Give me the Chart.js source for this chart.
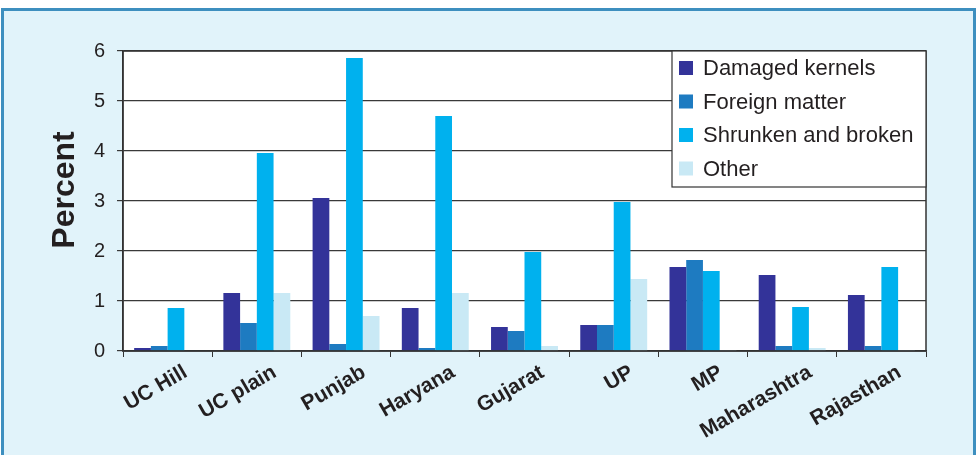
<!DOCTYPE html>
<html>
<head>
<meta charset="utf-8">
<script src="https://cdn.jsdelivr.net/npm/chart.js@4"></script>
<style>
  html, body { margin: 0; padding: 0; background: #ffffff; }
  #wrap { position: relative; width: 976px; height: 455px; overflow: hidden; }
  #frame { position: absolute; left: 1px; top: 8px; width: 969px; height: 470px;
           border: 3px solid #3d8fbf; background: #e1f3fa; }
  #c { position: absolute; left: 0; top: 0; }
</style>
</head>
<body>
<div id="wrap">
  <div id="frame"></div>
  <canvas id="c" width="976" height="455" style="width:976px;height:455px"></canvas>
</div>
<script>
const categories = ["UC Hill", "UC plain", "Punjab", "Haryana", "Gujarat", "UP", "MP", "Maharashtra", "Rajasthan"];
const damagedKernels = [0.06, 1.16, 3.06, 0.86, 0.48, 0.52, 1.68, 1.52, 1.12];
const foreignMatter = [0.10, 0.56, 0.14, 0.06, 0.40, 0.52, 1.82, 0.10, 0.10];
const shrunkenBroken = [0.86, 3.96, 5.86, 4.70, 1.98, 2.98, 1.60, 0.88, 1.68];
const other = [0.00, 1.16, 0.70, 1.16, 0.10, 1.44, 0.02, 0.06, 0.02];
const seriesNames = ["Damaged kernels", "Foreign matter", "Shrunken and broken", "Other"];
const yTicks = [0, 1, 2, 3, 4, 5, 6];
const yTitle = "Percent";

const FONT = "'Liberation Sans', Arial, sans-serif";

const plotFrame = {
  id: 'plotFrame',
  beforeDraw(chart) {
    const a = chart.chartArea, ctx = chart.ctx;
    ctx.save();
    ctx.fillStyle = '#ffffff';
    ctx.fillRect(a.left, a.top, a.right - a.left, a.bottom - a.top);
    ctx.restore();
  },
  afterDraw(chart) {
    const a = chart.chartArea, ctx = chart.ctx;
    ctx.save();
    ctx.strokeStyle = '#333333';
    ctx.lineWidth = 1.5;
    ctx.strokeRect(a.left, a.top, a.right - a.left, a.bottom - a.top);
    // y axis title
    ctx.save();
    ctx.translate(65, 190);
    ctx.rotate(-Math.PI / 2);
    ctx.font = 'bold 32px ' + FONT;
    ctx.fillStyle = '#231f20';
    ctx.textAlign = 'center';
    ctx.textBaseline = 'middle';
    ctx.fillText(yTitle, 0, 0);
    ctx.restore();
    // legend box
    const lx = 672, ly = a.top, lw = a.right - 672, lh = 136;
    ctx.fillStyle = '#ffffff';
    ctx.fillRect(lx, ly, lw, lh);
    ctx.strokeStyle = '#333333';
    ctx.lineWidth = 1.2;
    ctx.strokeRect(lx, ly, lw, lh);
    ctx.font = '22px ' + FONT;
    ctx.textBaseline = 'middle';
    ctx.textAlign = 'left';
    chart.data.datasets.forEach((ds, i) => {
      const cy = ly + 17 + i * 33.5;
      ctx.fillStyle = ds.backgroundColor;
      ctx.fillRect(lx + 7, cy - 7, 14, 14);
      ctx.fillStyle = '#231f20';
      ctx.fillText(ds.label, lx + 31, cy + 1);
    });
    ctx.restore();
  }
};

new Chart(document.getElementById('c'), {
  type: 'bar',
  data: {
    labels: categories,
    datasets: [
      { label: seriesNames[0], data: damagedKernels, backgroundColor: '#333399' },
      { label: seriesNames[1], data: foreignMatter, backgroundColor: '#1e7bc1' },
      { label: seriesNames[2], data: shrunkenBroken, backgroundColor: '#00b1ee' },
      { label: seriesNames[3], data: other, backgroundColor: '#c9e9f5' }
    ]
  },
  options: {
    responsive: false,
    animation: false,
    devicePixelRatio: 1,
    layout: { padding: { left: 0, right: 50, top: 51, bottom: 0 } },
    datasets: { bar: { categoryPercentage: 0.75, barPercentage: 1.0, borderWidth: 0 } },
    plugins: { legend: { display: false }, tooltip: { enabled: false } },
    scales: {
      x: {
        offset: true,
        grid: { display: true, drawOnChartArea: false, drawTicks: true, tickLength: 6, color: '#333333', offset: true },
        border: { display: true, color: '#333333', width: 1.5 },
        ticks: {
          color: '#231f20', font: { family: FONT, size: 21, weight: 'bold' },
          minRotation: 30, maxRotation: 30, autoSkip: false, labelOffset: 18, padding: 3
        },
        afterFit(scale) { scale.height = 104; }
      },
      y: {
        min: 0, max: 6,
        afterBuildTicks(scale) { scale.ticks = yTicks.map(v => ({ value: v })); },
        grid: { color: '#3a3a3a', lineWidth: 1.2, tickLength: 6, drawTicks: true },
        border: { display: true, color: '#333333', width: 1.5 },
        ticks: { color: '#231f20', font: { family: FONT, size: 20 }, padding: 12 },
        afterFit(scale) { scale.width = 123; }
      }
    }
  },
  plugins: [plotFrame]
});
</script>
</body>
</html>
